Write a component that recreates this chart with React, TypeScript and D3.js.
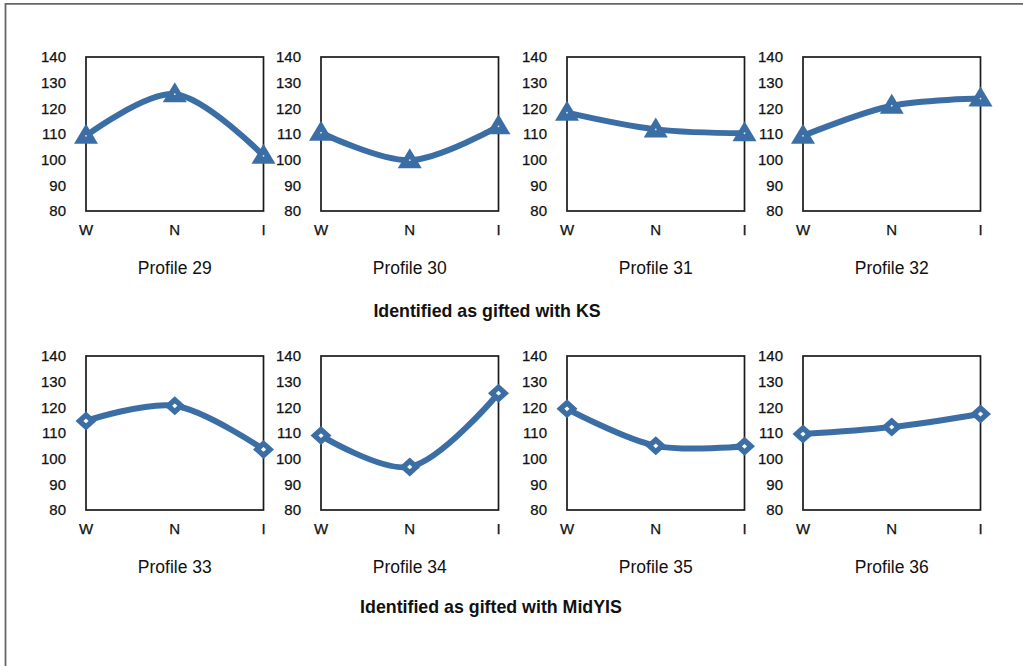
import React from 'react';
import * as d3 from 'd3';

// categories on the x axis
const stages = ['W', 'N', 'I'];
const yTicks = [80, 90, 100, 110, 120, 130, 140];

const ksProfiles = ['Profile 29', 'Profile 30', 'Profile 31', 'Profile 32'];
const ksValues = [
  [109.3, 125.5, 101.5],
  [110.5, 99.8, 113],
  [118.3, 111.8, 110.3],
  [109.3, 121, 123.8],
];

const midyisProfiles = ['Profile 33', 'Profile 34', 'Profile 35', 'Profile 36'];
const midyisValues = [
  [114.7, 120.6, 103.6],
  [109, 96.8, 125.5],
  [119.4, 105, 104.8],
  [109.6, 112.3, 117.4],
];

const groupTitles = ['Identified as gifted with KS', 'Identified as gifted with MidYIS'];

const BLUE = '#3c6ea6';
const FONT = '"Liberation Sans", Arial, Helvetica, sans-serif';

const panelLeft = [86, 321, 567, 803];
const panelW = 177.5;
const panelH = 154;
const rowTop = [57, 356];

function Panel({ x0, y0, values, label, marker }) {
  const x = d3.scalePoint().domain(stages).range([0, panelW]);
  const y = d3.scaleLinear().domain([80, 140]).range([panelH, 0]);
  const pts = stages.map((s, i) => [x(s), y(values[i])]);
  const line = d3.line().curve(d3.curveCatmullRom.alpha(0.5))(pts);

  return (
    <g transform={`translate(${x0},${y0})`}>
      <rect x={0} y={0} width={panelW} height={panelH} fill="#fff" stroke="#1a1a1a" strokeWidth={1.7} />
      {yTicks.map((t) => (
        <text key={t} x={-20} y={y(t)} dy="0.35em" textAnchor="end" fontSize={15} fill="#111"
          stroke="#111" strokeWidth={0.25} fontFamily={FONT}>
          {t}
        </text>
      ))}
      {stages.map((s) => (
        <text key={s} x={x(s)} y={panelH + 19} dy="0.35em" textAnchor="middle" fontSize={15} fill="#111"
          stroke="#111" strokeWidth={0.25} fontFamily={FONT}>
          {s}
        </text>
      ))}
      <path d={line} fill="none" stroke={BLUE} strokeWidth={6} strokeLinecap="round" />
      {pts.map(([px, py], i) =>
        marker === 'triangle' ? (
          <g key={i}>
            <path d={`M${px},${py - 12}L${px + 12},${py + 8}L${px - 12},${py + 8}Z`} fill={BLUE} />
            <circle cx={px} cy={py} r={0.9} fill="#dfe8f2" />
          </g>
        ) : (
          <g key={i}>
            <path d={`M${px},${py - 9.5}L${px + 10.5},${py}L${px},${py + 9.5}L${px - 10.5},${py}Z`} fill={BLUE} />
            <path d={`M${px},${py - 2.4}L${px + 2.6},${py}L${px},${py + 2.4}L${px - 2.6},${py}Z`} fill="#fff" />
          </g>
        )
      )}
      <text x={panelW / 2} y={panelH + 57} dy="0.35em" textAnchor="middle" fontSize={17.5} fill="#111" fontFamily={FONT}>
        {label}
      </text>
    </g>
  );
}

export default function App() {
  return (
    <div style={{ position: 'absolute', left: 0, top: 0 }}>
      <svg width={1023} height={666} style={{ display: 'block', background: '#fff' }}>
        <line x1={5.5} y1={3.8} x2={1023} y2={3.8} stroke="#666" strokeWidth={1.8} />
        <line x1={5.5} y1={3} x2={5.5} y2={666} stroke="#666" strokeWidth={1.8} />

        {ksProfiles.map((p, i) => (
          <Panel key={p} x0={panelLeft[i]} y0={rowTop[0]} values={ksValues[i]} label={p} marker="triangle" />
        ))}
        {midyisProfiles.map((p, i) => (
          <Panel key={p} x0={panelLeft[i]} y0={rowTop[1]} values={midyisValues[i]} label={p} marker="diamond" />
        ))}

        <text x={487} y={311} dy="0.35em" textAnchor="middle" fontSize={17.8} fontWeight="bold" fill="#111" fontFamily={FONT}>
          {groupTitles[0]}
        </text>
        <text x={491} y={607} dy="0.35em" textAnchor="middle" fontSize={17.8} fontWeight="bold" fill="#111" fontFamily={FONT}>
          {groupTitles[1]}
        </text>
      </svg>
    </div>
  );
}
